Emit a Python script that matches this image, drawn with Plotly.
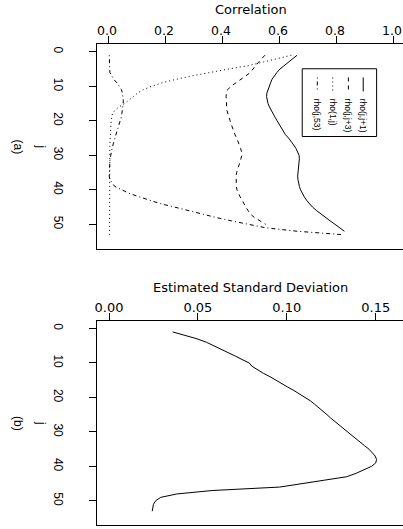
import plotly.graph_objects as go

# ---------------- data ----------------
j_solid = list(range(1, 53))
rho_j_j1 = [0.660, 0.645, 0.628, 0.613, 0.600, 0.589, 0.579, 0.572, 0.567, 0.562,
            0.557, 0.554, 0.553, 0.555, 0.558, 0.563, 0.569, 0.576, 0.583, 0.590,
            0.597, 0.604, 0.611, 0.619, 0.630, 0.640, 0.648, 0.656, 0.663, 0.667,
            0.668, 0.667, 0.665, 0.663, 0.662, 0.662, 0.663, 0.665, 0.668, 0.672,
            0.678, 0.685, 0.693, 0.702, 0.714, 0.728, 0.743, 0.759, 0.776, 0.793,
            0.810, 0.826]

j_dashed = list(range(1, 51))
rho_j_j3 = [0.547, 0.535, 0.525, 0.515, 0.505, 0.496, 0.480, 0.463, 0.449, 0.428,
            0.416, 0.412, 0.411, 0.411, 0.412, 0.413, 0.414, 0.417, 0.421, 0.425,
            0.429, 0.433, 0.437, 0.442, 0.448, 0.453, 0.458, 0.462, 0.465, 0.466,
            0.463, 0.459, 0.455, 0.452, 0.448, 0.446, 0.446, 0.446, 0.447, 0.449,
            0.454, 0.460, 0.467, 0.473, 0.480, 0.488, 0.496, 0.510, 0.528, 0.550]

j_dotted = list(range(1, 54))
rho_1_j = [0.640, 0.590, 0.540, 0.490, 0.420, 0.350, 0.290, 0.235, 0.185, 0.150,
           0.120, 0.100, 0.085, 0.072, 0.055, 0.035, 0.020, 0.012, 0.009, 0.008,
           0.007, 0.006, 0.005, 0.005, 0.004, 0.004, 0.003, 0.003, 0.003, 0.003,
           0.002, 0.002, 0.002, 0.002, 0.002, 0.002, 0.002, 0.002, 0.002, 0.002,
           0.002, 0.002, 0.002, 0.002, 0.002, 0.002, 0.002, 0.002, 0.002, 0.002,
           0.002, 0.002, 0.002]

j_dashdot = list(range(1, 54))
rho_j_53 = [0.001, 0.001, 0.002, 0.002, 0.002, 0.003, 0.010, 0.017, 0.028, 0.037,
            0.044, 0.047, 0.049, 0.050, 0.050, 0.049, 0.047, 0.045, 0.043, 0.040,
            0.036, 0.032, 0.028, 0.024, 0.020, 0.017, 0.014, 0.011, 0.008, 0.006,
            0.004, 0.003, 0.002, 0.001, 0.001, 0.001, 0.003, 0.010, 0.020, 0.045,
            0.070, 0.105, 0.140, 0.180, 0.230, 0.275, 0.320, 0.375, 0.430, 0.490,
            0.550, 0.660, 0.820]

j_sd = list(range(1, 54))
est_sd = [0.0358, 0.0430, 0.0495, 0.0548, 0.0591, 0.0631, 0.0672, 0.0710, 0.0748, 0.0788,
          0.0805, 0.0834, 0.0868, 0.0906, 0.0937, 0.0968, 0.1005, 0.1040, 0.1070, 0.1107,
          0.1133, 0.1157, 0.1182, 0.1205, 0.1226, 0.1247, 0.1270, 0.1293, 0.1317, 0.1340,
          0.1362, 0.1386, 0.1410, 0.1437, 0.1462, 0.1482, 0.1497, 0.1505, 0.1500, 0.1476,
          0.1435, 0.1390, 0.1337, 0.1220, 0.1090, 0.0960, 0.0580, 0.0380, 0.0290, 0.0262,
          0.0250, 0.0245, 0.0243]

legend_labels = ["rho(j,j+1)", "rho(j,j+3)", "rho(1,j)", "rho(j,53)"]
corr_ticks = [0.0, 0.2, 0.4, 0.6, 0.8, 1.0]
sd_ticks = [0.00, 0.05, 0.10, 0.15]
j_ticks = [0, 10, 20, 30, 40, 50]

# ---------------- styling ----------------
FONT = "Liberation Sans, Arial, Helvetica, sans-serif"
FONT_WIDE = "DejaVu Sans, Liberation Sans, Arial, sans-serif"
W, H = 403, 529
ML, MR, MT, MB = 97, 0, 44, 4
PW, PH = W - ML - MR, H - MT - MB

def px_x(px):
    return (px - ML) / PW

def px_y(py):
    return (H - MB - py) / PH

dashes = ["solid", "4px,4px", "1px,3px", "1px,3px,4px,3px"]

fig = go.Figure()
series = [(j_solid, rho_j_j1), (j_dashed, rho_j_j3), (j_dotted, rho_1_j), (j_dashdot, rho_j_53)]
for (jj, vv), lab, d in zip(series, legend_labels, dashes):
    fig.add_trace(go.Scatter(x=vv, y=jj, mode="lines", name=lab,
                             line=dict(color="black", width=1, dash=d),
                             xaxis="x", yaxis="y", showlegend=False, hoverinfo="skip"))

fig.add_trace(go.Scatter(x=est_sd, y=j_sd, mode="lines", name="sd",
                         line=dict(color="black", width=1),
                         xaxis="x2", yaxis="y2", showlegend=False, hoverinfo="skip"))

axis_common = dict(showgrid=False, zeroline=False, ticks="outside", ticklen=7,
                   tickcolor="black", tickwidth=1, showline=True, linecolor="black",
                   linewidth=1, fixedrange=True)
xfont_a = dict(family=FONT_WIDE, size=12.5, color="black")
xfont_b = dict(family=FONT_WIDE, size=13, color="black")
yfont = dict(family=FONT, size=12, color="black")

yrange = [57.0, -2.25]
fig.update_layout(
    width=W, height=H, autosize=False, hovermode=False,
    margin=dict(l=ML, r=MR, t=MT, b=MB, pad=0),
    paper_bgcolor="white", plot_bgcolor="white",
    font=dict(family=FONT, size=12, color="black"),
    xaxis=dict(domain=[0, 1], anchor="y", side="top", range=[-0.042, 1.0316],
               tickvals=corr_ticks, ticktext=[f"{v:.1f}" for v in corr_ticks],
               mirror=True, ticklabelstandoff=-4, ticklabelshift=-2,
               ticklabeloverflow="allow", tickfont=xfont_a, **axis_common),
    yaxis=dict(domain=[px_y(248.5), 1], anchor="x", range=yrange,
               tickvals=j_ticks, ticktext=[str(v) for v in j_ticks], tickangle=90,
               mirror=False, ticklabelstandoff=21, tickfont=yfont, **axis_common),
    xaxis2=dict(domain=[0, 1], anchor="y2", side="top", range=[-0.00675, 0.16535],
                tickvals=sd_ticks, ticktext=[f"{v:.2f}" for v in sd_ticks],
                mirror=True, ticklabelstandoff=-4, ticklabeloverflow="allow",
                tickfont=xfont_b, **axis_common),
    yaxis2=dict(domain=[0, px_y(320.7)], anchor="x2", range=yrange,
                tickvals=j_ticks, ticktext=[str(v) for v in j_ticks], tickangle=90,
                mirror=False, ticklabelstandoff=21, tickfont=yfont, **axis_common),
)

ann = []
# titles
ann.append(dict(text="Correlation", x=px_x(251), y=px_y(9.5), xref="paper", yref="paper",
                xanchor="center", yanchor="middle", showarrow=False,
                font=dict(family=FONT_WIDE, size=13)))
ann.append(dict(text="Estimated Standard Deviation", x=px_x(250), y=px_y(287), xref="paper",
                yref="paper", xanchor="center", yanchor="middle", showarrow=False,
                font=dict(family=FONT_WIDE, size=13)))
for yc, lab in [(146.5, "j"), (146.5 + 276.5, "j")]:
    ann.append(dict(text=lab, x=px_x(41), y=px_y(yc), xref="paper", yref="paper",
                    xanchor="center", yanchor="middle", textangle=90, showarrow=False,
                    font=dict(family=FONT, size=12)))
for yc, lab in [(147.5, "(a)"), (147.5 + 276.5, "(b)")]:
    ann.append(dict(text=lab, x=px_x(18), y=px_y(yc), xref="paper", yref="paper",
                    xanchor="center", yanchor="middle", textangle=90, showarrow=False,
                    font=dict(family=FONT, size=12)))

# legend (drawn in panel (a) data coordinates, rotated like the plot)
shapes = [dict(type="rect", xref="x", yref="y", x0=0.678, x1=0.939, y0=4.93, y1=24.55,
               line=dict(color="black", width=1), fillcolor="rgba(0,0,0,0)")]
leg_x = [0.892, 0.840, 0.785, 0.731]
for lx, lab, d in zip(leg_x, legend_labels, dashes):
    shapes.append(dict(type="line", xref="x", yref="y", x0=lx, x1=lx, y0=7.45, y1=11.5,
                       line=dict(color="black", width=1, dash=d)))
    ann.append(dict(text=lab, x=lx, y=13.1, xref="x", yref="y", xanchor="center",
                    yanchor="top", textangle=90, showarrow=False,
                    font=dict(family=FONT, size=8.5)))

fig.update_layout(annotations=ann, shapes=shapes)
fig.write_html("out.html", config={"displayModeBar": False, "staticPlot": True},
               post_script="document.body.style.margin = '0px';")
